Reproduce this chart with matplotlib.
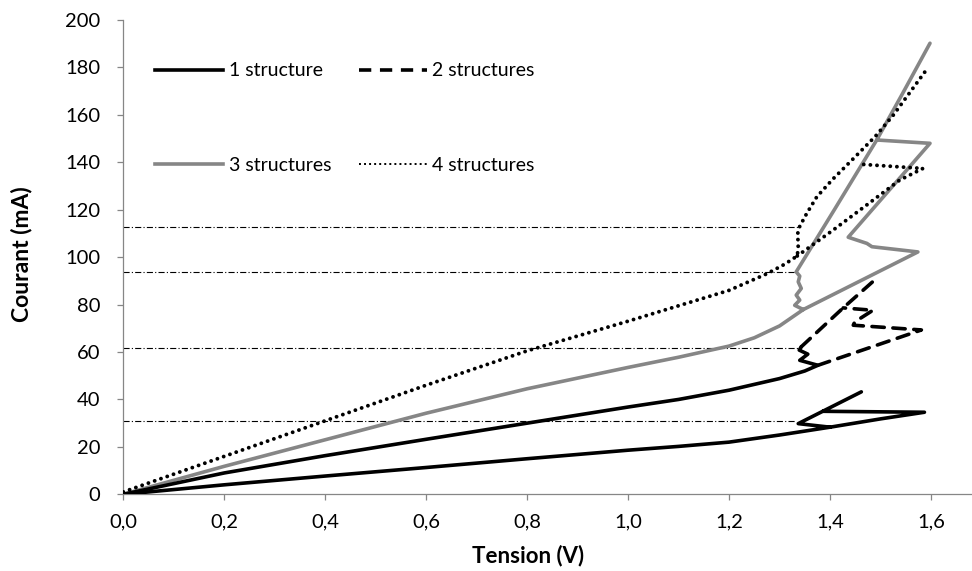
import numpy as np
import matplotlib
matplotlib.use("Agg")
import matplotlib.pyplot as plt
from matplotlib.lines import Line2D
from matplotlib.ticker import FuncFormatter, MultipleLocator

nan = np.nan

# Données (Tension en V, Courant en mA)
labels = ["1 structure", "2 structures", "3 structures", "4 structures"]

v1 = [0, 0.2, 0.4, 0.6, 0.8, 1.0, 1.1, 1.2, 1.3, 1.4, 1.5, 1.587, 1.386,
      nan, 1.4, 1.337, 1.462]
i1 = [0, 4.0, 7.7, 11.3, 15.0, 18.6, 20.2, 22.0, 25.0, 28.3, 31.8, 34.6, 35.0,
      nan, 28.3, 29.8, 43.2]

v2 = [0, 0.2, 0.4, 0.6, 0.8, 1.0, 1.1, 1.2, 1.3, 1.35, 1.376, 1.340, 1.356, 1.339, 1.343,
      1.426, 1.496, nan, 1.376, 1.581, 1.446, 1.449, 1.485, 1.426]
i2 = [0, 9.0, 16.3, 23.2, 30.0, 36.8, 40.0, 43.9, 48.8, 52.0, 54.4, 56.5, 59.1, 60.8, 62.2,
      78.6, 91.8, nan, 54.4, 69.3, 71.3, 72.7, 77.6, 78.6]
n_solid_2 = 15  # la partie basse apparait en trait plein

v3 = [0, 0.2, 0.4, 0.6, 0.8, 1.0, 1.1, 1.2, 1.25, 1.3, 1.347, 1.330, 1.340, 1.333, 1.343,
      1.337, 1.340, 1.333, 1.41, 1.4925, 1.545, 1.598,
      nan, 1.347, 1.574, 1.483, 1.473, 1.436, 1.598, 1.4925]
i3 = [0, 11.8, 23.0, 34.2, 44.5, 53.5, 57.8, 62.5, 66.0, 71.0, 77.9, 79.7, 81.9, 84.0, 86.8,
      89.6, 92.0, 93.8, 120.5, 149.4, 169.5, 190.2,
      nan, 77.9, 102.2, 104.4, 105.8, 108.4, 148.0, 149.4]

v4 = [0, 0.2, 0.4, 0.6, 0.8, 1.0, 1.1, 1.2, 1.275, 1.31, 1.335, 1.337, 1.336, 1.340, 1.354,
      1.374, 1.406, 1.446, 1.49, 1.525, 1.594,
      nan, 1.335, 1.406, 1.472, 1.538, 1.584, 1.459]
i4 = [1, 16, 31, 46, 60.5, 73, 79.5, 86, 93, 97, 100.5, 104, 110, 113, 118.5,
      125.5, 133, 141.5, 151, 159.8, 179.9,
      nan, 100.5, 111.4, 121.9, 132.5, 137.4, 139.2]

# lignes de maintien (trait mixte)
hold_levels = [30.7, 61.9, 93.8, 112.8]
hold_ends = [1.333, 1.337, 1.333, 1.340]

plt.rcParams['font.family'] = ['Lato', 'DejaVu Sans']
W, H = 972, 571
fig = plt.figure(figsize=(W / 100, H / 100), dpi=100)

x0, xaxis_y, ytop, x16 = 123.3, 494.3, 20.0, 931.0
px_per_v = (x16 - x0) / 1.6
ax = fig.add_axes([x0 / W, (H - xaxis_y) / H, (W - x0) / W, (xaxis_y - ytop) / H])
ax.set_xlim(0, 1.6 + (W - x16) / px_per_v)
ax.set_ylim(0, 200)

gray = '#868686'
lw = 2.6

for lev, end in zip(hold_levels, hold_ends):
    ax.plot([0, end], [lev, lev], color='black', lw=0.8, linestyle=(0, (5.5, 2, 1, 2)), zorder=1)

ax.plot(v1, i1, color='black', lw=lw, solid_capstyle='round', solid_joinstyle='round', zorder=3)
ax.plot(v2[:n_solid_2], i2[:n_solid_2], color='black', lw=lw, solid_capstyle='round',
        solid_joinstyle='round', zorder=3)
ax.plot(v2[n_solid_2 - 1:], i2[n_solid_2 - 1:], color='black', lw=lw, linestyle=(0, (3.4, 2.4)),
        dash_capstyle='round', zorder=3)
ax.plot(v3, i3, color=gray, lw=lw, solid_capstyle='round', solid_joinstyle='round', zorder=2)
ax.plot(v4, i4, color='black', lw=2.8, linestyle=(0, (0.01, 1.7)), dash_capstyle='round', zorder=4)

for s in ['top', 'right']:
    ax.spines[s].set_visible(False)
for s in ['left', 'bottom']:
    ax.spines[s].set_color(gray)
    ax.spines[s].set_linewidth(0.9)

ax.set_xticks(np.arange(0, 1.61, 0.2))
ax.yaxis.set_major_locator(MultipleLocator(20))
ax.xaxis.set_major_formatter(FuncFormatter(lambda v, p: ('%.1f' % v).replace('.', ',')))
ax.yaxis.set_major_formatter(FuncFormatter(lambda v, p: '%d' % v))
ax.tick_params(axis='both', direction='out', length=4.5, width=0.9, color=gray,
               labelsize=14.5, labelcolor='black')
ax.tick_params(axis='y', pad=12)
ax.tick_params(axis='x', pad=9)

fig.text(528 / W, 1 - 556 / H, 'Tension (V)', ha='center', va='center',
         fontsize=16, fontweight='bold')
fig.text(22 / W, 1 - 254 / H, 'Courant (mA)', ha='center', va='center',
         rotation=90, fontsize=16.5, fontweight='bold')

handles = [
    Line2D([], [], color='black', lw=lw),
    Line2D([], [], color=gray, lw=lw),
    Line2D([], [], color='black', lw=lw, linestyle=(0, (3.4, 2.4))),
    Line2D([], [], color='black', lw=1.4, linestyle=(0, (1, 1.6))),
]
leg_labels = [labels[0], labels[2], labels[1], labels[3]]
ax.legend(handles, leg_labels, ncol=2, loc='upper left', bbox_to_anchor=(155 / W, 1 - 62.5 / H),
          bbox_transform=fig.transFigure, frameon=False, fontsize=14, handlelength=3.5,
          handletextpad=0.3, columnspacing=1.4, labelspacing=4.0, borderpad=0, borderaxespad=0)

fig.savefig('out.png', dpi=100)
